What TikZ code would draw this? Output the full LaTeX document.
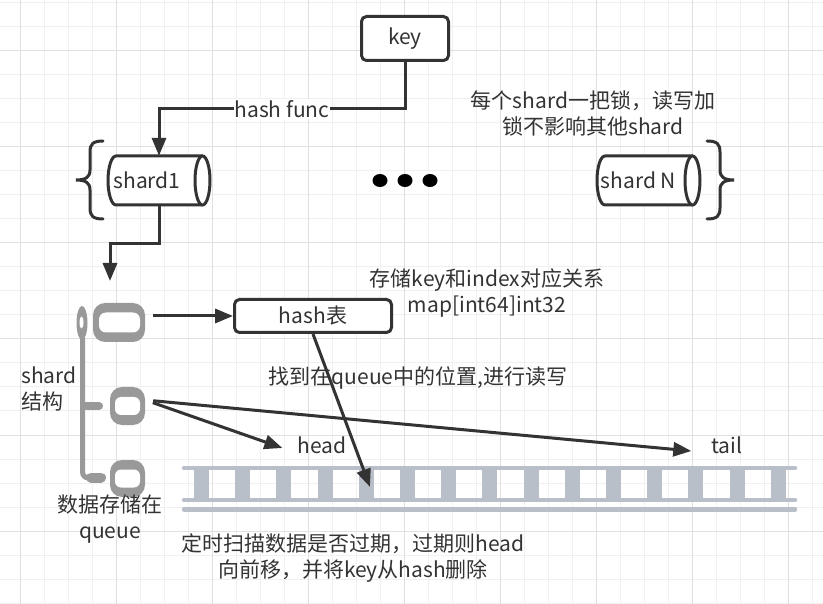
\documentclass[tikz,border=0pt]{standalone}
\usepackage{fontspec}
\setmainfont{Noto Sans CJK SC}
\usetikzlibrary{arrows,arrows.meta}
\usetikzlibrary{calc}
\definecolor{strich}{RGB}{51,51,51}
\definecolor{grau}{RGB}{153,153,153}
\definecolor{leiter}{RGB}{185,191,201}
\colorlet{raster}{black!6}
\colorlet{raster-dunkel}{black!12}

\begin{document}
\begin{tikzpicture}[strich, x=1pt, y=-1pt,>={Triangle[length=0pt 6,width=0pt 4.7]},
    kasten/.style={draw, line width=3pt, rounded corners=5pt, fill=white, font=\fontsize{21}{26}\selectfont},
    schrift/.style={align=center, inner sep=1pt, font=\fontsize{21}{26}\selectfont},
    pfeil/.style={line width=3pt, ->},
    walze/.style={draw, line width=3pt, fill=white},
    kapsel/.style={fill=grau, rounded corners=12pt, inner sep=0pt}]

    \useasboundingbox (0,0) rectangle (823,604);
    % raster
    \foreach \x in {20,44,...,812} \draw[raster, line width=1pt] (\x,0) -- (\x,604);
    \foreach \y in {3,27,...,603} \draw[raster, line width=1pt] (0,\y) -- (823,\y);
    \foreach \x in {20,116,...,788} \draw[raster-dunkel, line width=1pt] (\x,0) -- (\x,604);
    \foreach \y in {51,147,...,531} \draw[raster-dunkel, line width=1pt] (0,\y) -- (823,\y);

    % key und shards
    \node[kasten, minimum width=87pt, minimum height=44pt] (key) at (405,38.5) {key};

    \draw[walze] (202.5,156) -- (116,156) arc[start angle=-90, end angle=-270, x radius=8, y radius=24.5] -- (202.5,205);
    \draw[walze] (202.5,180.5) ellipse[x radius=7.5, y radius=24.5];
    \node[schrift, minimum height=49pt] (shard1) at (147,180.5) {shard1};

    \draw[walze] (692.5,156) -- (605,156) arc[start angle=-90, end angle=-270, x radius=8, y radius=24.5] -- (692.5,205);
    \draw[walze] (692.5,180.5) ellipse[x radius=7.5, y radius=24.5];
    \node[schrift, minimum height=49pt] (shardN) at (638.5,180.5) {shard N};

    \foreach \x in {380,405,430} \fill[black] (\x,180.5) ellipse[x radius=7.5, y radius=6.5];

    \draw[line width=3pt, line cap=round] (103,141) .. controls (93,141) and (90,144) .. (90,152) -- (90,170) .. controls (90,177) and (86,180) .. (76,180) .. controls (86,180) and (90,183) .. (90,190) -- (90,208) .. controls (90,216) and (93,219) .. (103,219);
    \draw[line width=3pt, line cap=round] (707,141) .. controls (717,141) and (720,144) .. (720,152) -- (720,170) .. controls (720,177) and (724,180) .. (734,180) .. controls (724,180) and (720,183) .. (720,190) -- (720,208) .. controls (720,216) and (717,219) .. (707,219);

    \draw[pfeil] (key.south) -- ++(0,47) -| ([xshift=12pt]shard1.north) node[schrift, pos=0.25, fill=white] {hash func};
    \node[schrift] (sperre) at (593,113.5) {每个shard一把锁，读写加\\锁不影响其他shard};

    % shard struktur
    \coordinate (ringoben) at (110,281);
    \draw[pfeil] ([xshift=12pt]shard1.south) -- ++(0,38) -| (ringoben);
    \fill[grau] (82,323) ellipse[x radius=5.5, y radius=17];
    \fill[white] (81.5,322.5) ellipse[x radius=2, y radius=6];
    \draw[grau, line width=5pt, rounded corners=6pt] (82.5,338) -- (82.5,478) -- (100,478);
    \draw[grau, line width=8pt, line cap=round] (86,406) -- (99,406);
    \draw[grau, line width=10pt, line cap=round] (91,477.5) -- (101,477.5);
    \node[kapsel, minimum width=52pt, minimum height=39pt] (kopf) at (119,322.5) {};
    \node[kapsel, minimum width=35pt, minimum height=38pt] (mitte) at (127.5,406) {};
    \node[kapsel, minimum width=35pt, minimum height=37pt] (fuss) at (127.5,478.5) {};
    \fill[white, rounded corners=7pt] ($(kopf.center)+(-20,-10)$) rectangle ++(41,20);
    \fill[white, rounded corners=6pt] ($(mitte.center)+(-12.5,-9)$) rectangle ++(25,18);
    \fill[white, rounded corners=6pt] ($(fuss.center)+(-12.5,-9)$) rectangle ++(25,18);
    \node[schrift, align=left, anchor=west] (struktur) at (20,388.5) {shard\\结构};
    \node[schrift] (ablage) at (110,519) {数据存储在\\queue};

    % hash tabelle
    \node[kasten, minimum width=157pt, minimum height=33pt] (hashtab) at (313,316) {hash表};
    \draw[pfeil, shorten <=8pt] (kopf.east |- hashtab.west) -- (hashtab.west);
    \node[schrift] (speicher) at (487,293) {存储key和index对应关系\\map[int64]int32};
    \node[schrift] (finden) at (418,378) {找到在queue中的位置,进行读写};

    % queue
    \foreach \i in {0,...,14} \fill[leiter] ({194+\i*41.2},468) rectangle ++(15,32);
    \draw[leiter, line width=4.5pt, line cap=round] (184,468) -- (795,468);
    \draw[leiter, line width=4.5pt, line cap=round] (184,500) -- (795,500);
    \draw[leiter, line width=4.5pt, line cap=round] (184,509.5) -- (795,509.5);

    \node[schrift] (head) at (322,445) {head};
    \node[schrift] (tail) at (727,445) {tail};
    \coordinate (leiterziel) at (370,487);
    \draw[pfeil] (hashtab.south) -- (leiterziel);
    \draw[pfeil, shorten <=8pt] ([yshift=6pt]mitte.east) -- ([xshift=-14pt, yshift=-3pt]head.west);
    \draw[pfeil, shorten <=8pt] ([yshift=6pt]mitte.east) -- ([xshift=-19pt, yshift=-6pt]tail.west);
    \node[schrift] (ablauf) at (353,558) {定时扫描数据是否过期，过期则head\\向前移，并将key从hash删除};

\end{tikzpicture}
\end{document}
